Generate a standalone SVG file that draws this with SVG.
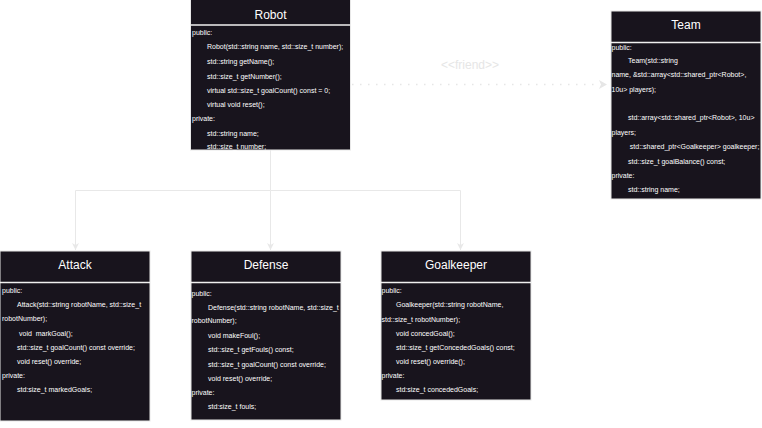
<svg xmlns="http://www.w3.org/2000/svg" width="762" height="428" viewBox="0 0 762 428">
<style>
.box{fill:#18141d;stroke:#e8e8e8;stroke-width:1}
.sep{stroke:#f0f0f0;stroke-width:1.5}
.title{font-family:"Liberation Sans",Arial,sans-serif;font-size:12px;fill:#ffffff;text-anchor:middle}
.t{font-family:"Liberation Sans",Arial,sans-serif;font-size:7px;fill:#ffffff}
.edge{fill:none;stroke:#e8e8e8;stroke-width:1}
.friend{fill:none;stroke:#e6e6e6;stroke-width:1.5;stroke-dasharray:1.5 6.5}
.lbl{font-family:"Liberation Sans",Arial,sans-serif;font-size:12px;fill:#e6e6e6;text-anchor:middle}
</style>
<defs>
<marker id="arr" viewBox="0 0 10 10" refX="10" refY="5" markerWidth="7" markerHeight="7" markerUnits="userSpaceOnUse" orient="auto">
<path d="M0,0 L10,5 L0,10 L3,5 Z" fill="#e8e8e8"/>
</marker>
</defs>
<rect width="762" height="428" fill="#ffffff"/>

<g id="connectors">
<path class="edge" d="M270.5,150 V190.5 H75.5 V250" marker-end="url(#arr)"/>
<path class="edge" d="M270.5,190.5 V250" marker-end="url(#arr)"/>
<path class="edge" d="M270.5,190.5 H460.5 V250" marker-end="url(#arr)"/>
<path class="friend" d="M352,84.5 H600"/>
<path d="M599,80 L607,84.5 L599,89 L601,84.5 Z" fill="#e6e6e6"/>
<text class="lbl" x="470" y="69">&lt;&lt;friend&gt;&gt;</text>
</g>

<g id="robot">
<rect class="box" x="190.5" y="-1" width="160" height="151"/>
<line class="sep" x1="190.5" y1="25" x2="350.5" y2="25"/>
<text class="title" x="270.5" y="19">Robot</text>
<text class="t" x="192" y="34.8">public:</text>
<text class="t" x="207" y="49.2">Robot(std::string name, std::size_t number);</text>
<text class="t" x="207" y="64">std::string getName();</text>
<text class="t" x="207" y="78.5">std::size_t getNumber();</text>
<text class="t" x="207" y="93.2">virtual std::size_t goalCount() const = 0;</text>
<text class="t" x="207" y="107.2">virtual void reset();</text>
<text class="t" x="192" y="121.2">private:</text>
<text class="t" x="207" y="135.8">std::string name;</text>
<text class="t" x="207" y="149.2">std::size_t number;</text>
</g>

<g id="team">
<rect class="box" x="611" y="11" width="150" height="188"/>
<line class="sep" x1="611" y1="42.5" x2="761" y2="42.5"/>
<text class="title" x="686" y="29">Team</text>
<text class="t" x="611.5" y="49.5">public:</text>
<text class="t" x="628" y="63.2">Team(std::string</text>
<text class="t" x="611.5" y="77.2">name, &amp;std::array&lt;std::shared_ptr&lt;Robot&gt;,</text>
<text class="t" x="611.5" y="91.8">10u&gt; players);</text>
<text class="t" x="628" y="120.2">std::array&lt;std::shared_ptr&lt;Robot&gt;, 10u&gt;</text>
<text class="t" x="611.5" y="135.2">players;</text>
<text class="t" x="629.8" y="148.8">std::shared_ptr&lt;Goalkeeper&gt; goalkeeper;</text>
<text class="t" x="628" y="163.8">std::size_t goalBalance() const;</text>
<text class="t" x="611.5" y="177.8">private:</text>
<text class="t" x="628" y="192.2">std::string name;</text>
</g>

<g id="attack">
<rect class="box" x="0" y="251" width="150" height="170"/>
<line class="sep" x1="0" y1="282.5" x2="150" y2="282.5"/>
<text class="title" x="75" y="268.5">Attack</text>
<text class="t" x="2" y="292.8">public:</text>
<text class="t" x="17" y="306.5">Attack(std::string robotName, std::size_t</text>
<text class="t" x="2" y="321.2">robotNumber);</text>
<text class="t" x="19" y="335.5">void&#160; markGoal();</text>
<text class="t" x="17" y="349.5">std::size_t goalCount() const override;</text>
<text class="t" x="17" y="363.8">void reset() override;</text>
<text class="t" x="2" y="377.8">private:</text>
<text class="t" x="17" y="392.2">std:size_t markedGoals;</text>
</g>

<g id="defense">
<rect class="box" x="191" y="251" width="150" height="169"/>
<line class="sep" x1="191" y1="282.5" x2="341" y2="282.5"/>
<text class="title" x="266" y="268.5">Defense</text>
<text class="t" x="191.5" y="296.2">public:</text>
<text class="t" x="208" y="309.5">Defense(std::string robotName, std::size_t</text>
<text class="t" x="191.5" y="323.2">robotNumber);</text>
<text class="t" x="208" y="338.2">void makeFoul();</text>
<text class="t" x="208" y="352.2">std::size_t getFouls() const;</text>
<text class="t" x="208" y="366.5">std::size_t goalCount() const override;</text>
<text class="t" x="208" y="380.5">void reset() override;</text>
<text class="t" x="191.5" y="395.2">private:</text>
<text class="t" x="208" y="409.2">std:size_t fouls;</text>
</g>

<g id="goalkeeper">
<rect class="box" x="381" y="251" width="150" height="149"/>
<line class="sep" x1="381" y1="282.5" x2="531" y2="282.5"/>
<text class="title" x="456" y="268.5">Goalkeeper</text>
<text class="t" x="381.5" y="292.8">public:</text>
<text class="t" x="396" y="307.2">Goalkeeper(std::string robotName,</text>
<text class="t" x="381.5" y="321.5">std::size_t robotNumber);</text>
<text class="t" x="396" y="335.5">void concedGoal();</text>
<text class="t" x="396" y="349.5">std::size_t getConcededGoals() const;</text>
<text class="t" x="396" y="363.8">void reset() override();</text>
<text class="t" x="381.5" y="377.8">private:</text>
<text class="t" x="396" y="392.2">std:size_t concededGoals;</text>
</g>
</svg>
